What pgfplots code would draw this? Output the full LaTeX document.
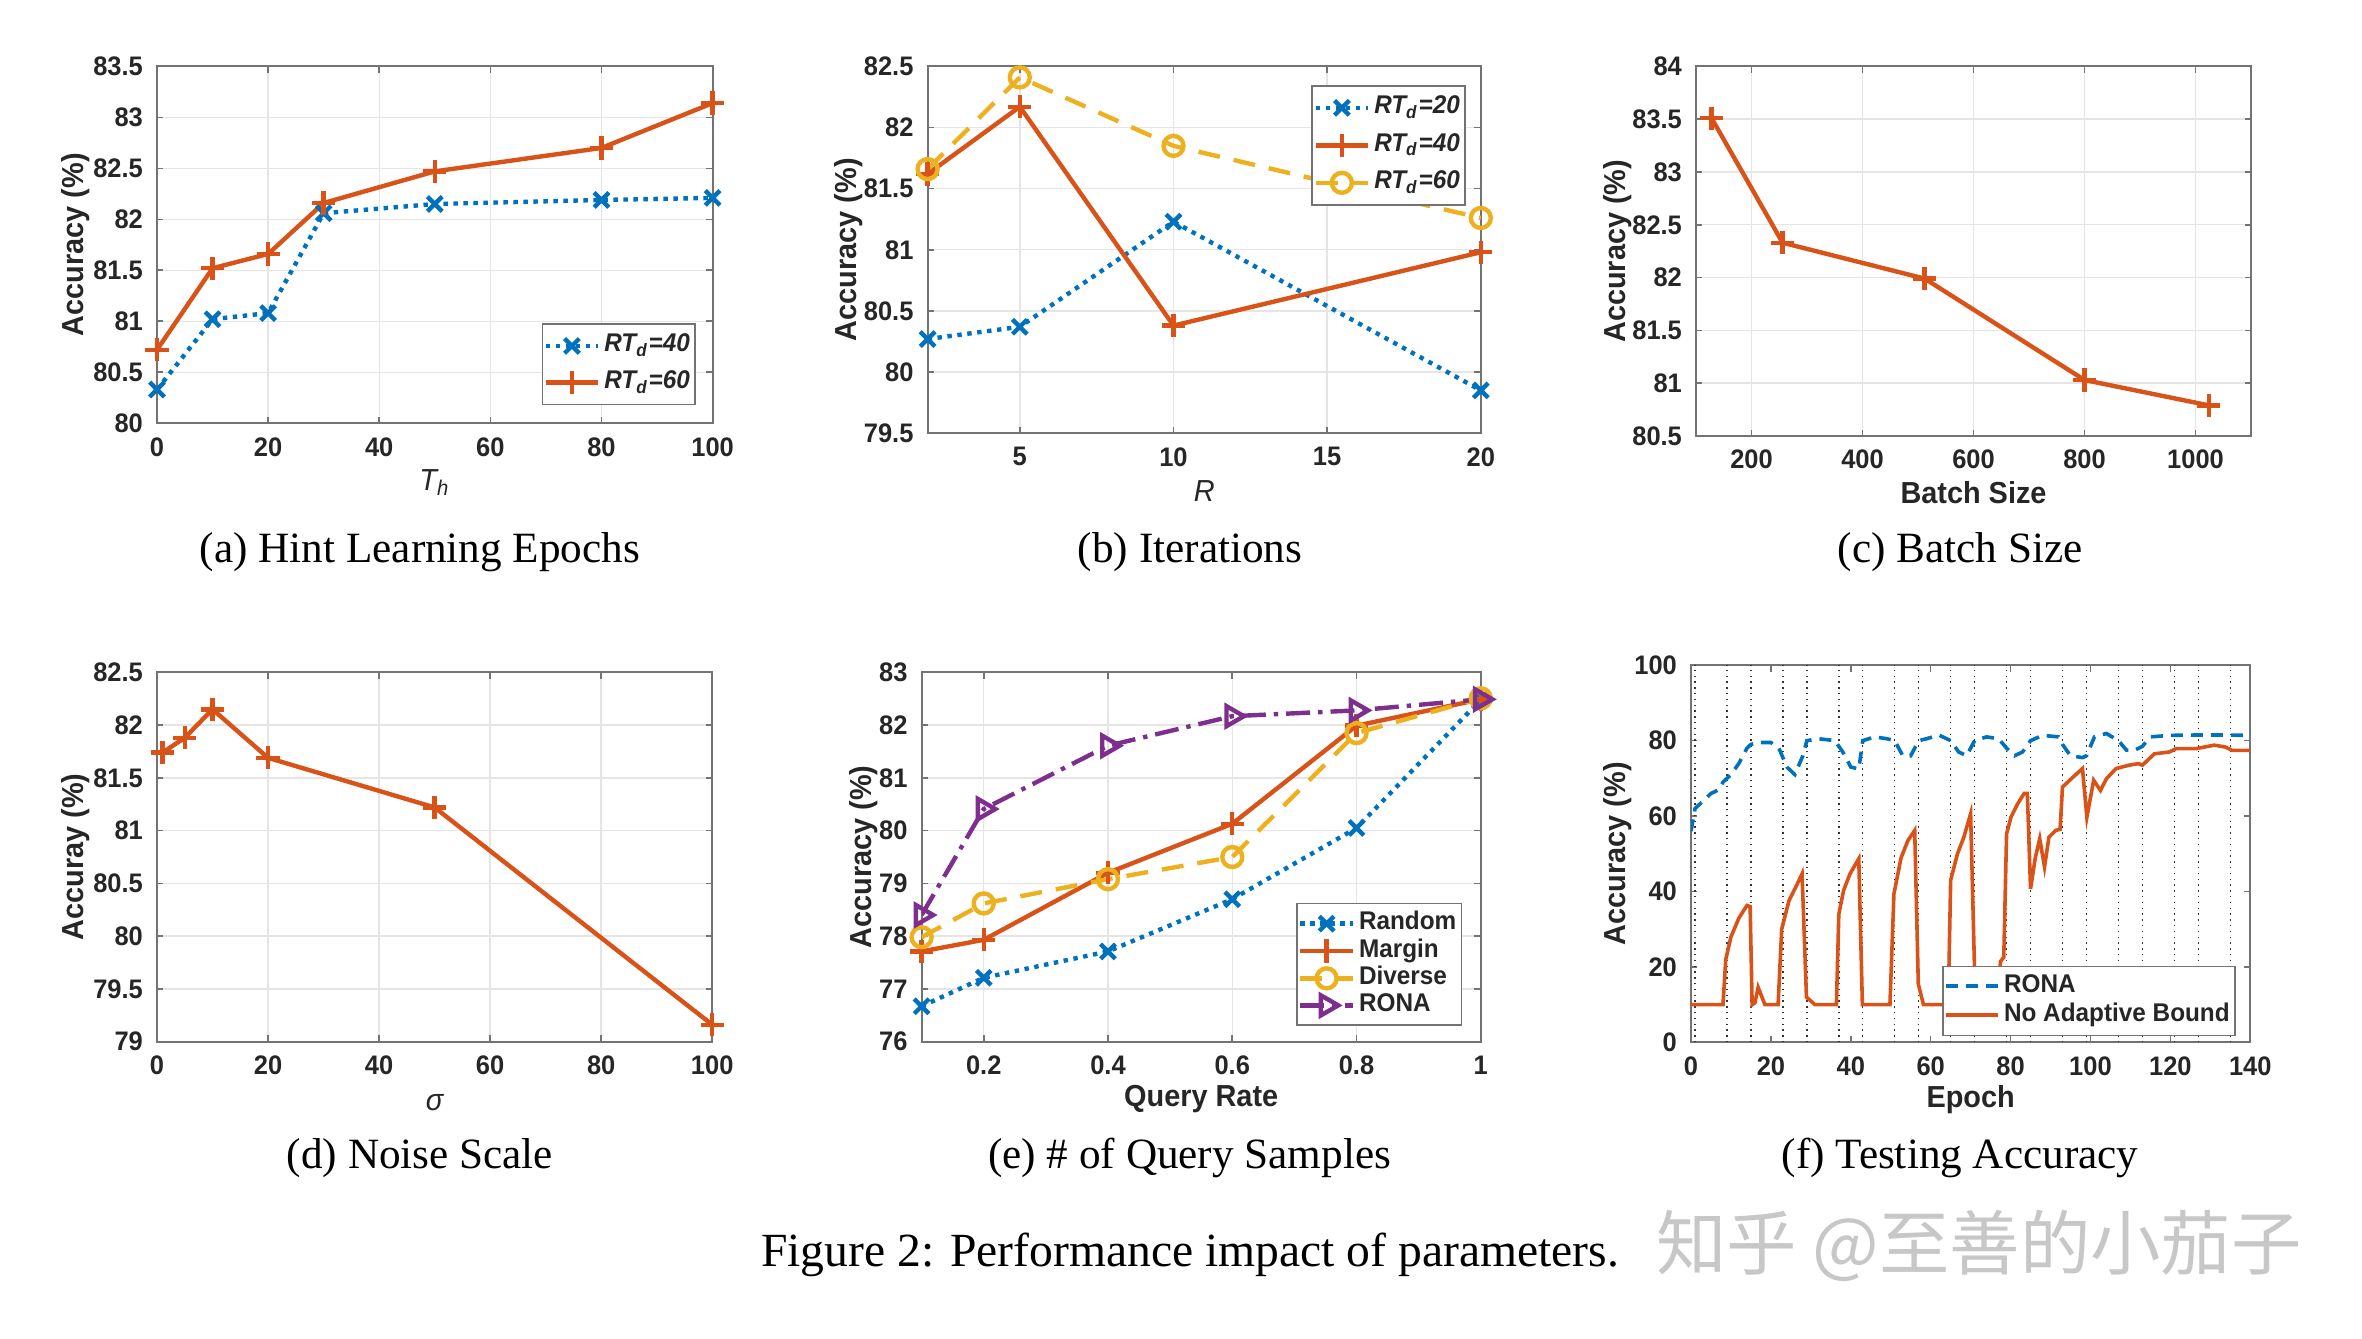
\documentclass[border=0pt]{standalone}
\usepackage{fontspec}
\setmainfont{Liberation Serif}
\setsansfont[FakeStretch=0.95]{Liberation Sans}
\newfontfamily\cjk{Noto Sans CJK SC}
\usepackage{pgfplots}
\pgfplotsset{compat=1.18}
\definecolor{mblue}{rgb}{0,0.447,0.741}
\definecolor{morange}{rgb}{0.85,0.325,0.098}
\definecolor{myellow}{rgb}{0.929,0.694,0.125}
\definecolor{mpurple}{rgb}{0.494,0.184,0.556}
\definecolor{mtext}{rgb}{0.15,0.15,0.15}
\newcommand{\tfont}{\sffamily\bfseries\fontsize{6.7}{8}\selectfont}
\newcommand{\lfont}{\sffamily\bfseries\fontsize{7.6}{8.5}\selectfont}
\newcommand{\ifont}{\sffamily\itshape\fontsize{7.6}{8.5}\selectfont}
\newcommand{\gfont}{\sffamily\bfseries\fontsize{6.4}{7}\selectfont}
\newcommand{\gifont}{\sffamily\itshape\fontsize{6.4}{7}\selectfont}
\pgfplotsset{
 panel/.style={
  scale only axis, anchor=south west,
  axis line style={black!55, line width=0.5pt},
  every tick/.style={black!55, line width=0.4pt},
  major tick length=1.6pt, tick align=inside,
  grid=major, major grid style={black!10, line width=0.35pt},
  /pgf/number format/assume math mode=true,
  /pgf/number format/1000 sep={},
  ticklabel style={font=\tfont, text=mtext},
  ylabel style={font=\lfont, text=mtext, anchor=center},
  xlabel style={font=\lfont, text=mtext, anchor=center},
  legend style={font=\gfont, text=mtext, draw=black!55, line width=0.4pt, fill=white,
     inner xsep=0.3pt, inner ysep=1pt, nodes={inner sep=1pt}, cells={anchor=west}},
  legend image code/.code={\draw[mark repeat=2,mark phase=2] plot coordinates {(0cm,0cm) (0.23cm,0cm) (0.46cm,0cm)};},
  every axis plot/.append style={line width=1.1pt},
 },
 sdot/.style={mblue, dash pattern=on 1.1pt off 1.4pt, mark=x, mark size=2.6pt, mark options={solid, line width=1.1pt}},
 sline/.style={morange, solid, mark=+, mark size=2.9pt, mark options={solid, line width=1.1pt}},
 sdash/.style={myellow, dash pattern=on 5.5pt off 3.5pt, mark=o, mark size=2.5pt, mark options={solid, line width=1.1pt}},
 sdashdot/.style={mpurple, dash pattern=on 6pt off 2pt on 1.1pt off 2pt, mark=triangle, mark size=2.9pt, mark options={solid, rotate=-90, line width=1.1pt}},
}
\begin{document}
\begin{tikzpicture}
\useasboundingbox (0,0) rectangle (590.5pt,334.5pt);

% (a)
\begin{axis}[panel, at={(39.25pt,228.7pt)}, width=138.9pt, height=89.2pt,
  xmin=0, xmax=100, ymin=80, ymax=83.5,
  xtick={0,20,40,60,80,100}, ytick={80,80.5,81,81.5,82,82.5,83,83.5},
  ylabel={Accuracy (\%)}, ylabel style={at={(axis description cs:-0.147,0.5)}},
  xlabel={\ifont\mdseries T\textsubscript{h}}, xlabel style={at={(axis description cs:0.5,-0.166)}},
  legend style={at={(axis description cs:0.97,0.05)}, anchor=south east, row sep=1.2pt, inner ysep=1.5pt}]
\addplot[sdot] coordinates {(0,80.33)(10,81.02)(20,81.08)(30,82.06)(50,82.15)(80,82.19)(100,82.21)};
\addlegendentry{\gifont RT\textsubscript{d}=40}
\addplot[sline] coordinates {(0,80.72)(10,81.52)(20,81.66)(30,82.16)(50,82.47)(80,82.7)(100,83.14)};
\addlegendentry{\gifont RT\textsubscript{d}=60}
\end{axis}

% (b)
\begin{axis}[panel, at={(231.9pt,226.2pt)}, width=138.3pt, height=91.7pt,
  xmin=2, xmax=20, ymin=79.5, ymax=82.5,
  xtick={5,10,15,20}, ytick={79.5,80,80.5,81,81.5,82,82.5},
  ylabel={Accuracy (\%)}, ylabel style={at={(axis description cs:-0.142,0.5)}},
  xlabel={\ifont\mdseries R}, xlabel style={at={(axis description cs:0.5,-0.159)}},
  legend style={at={(axis description cs:0.973,0.949)}, anchor=north east, row sep=1.4pt, inner ysep=1.5pt}]
\addplot[sdot] coordinates {(2,80.27)(5,80.37)(10,81.23)(20,79.85)};
\addlegendentry{\gifont RT\textsubscript{d}=20}
\addplot[sline] coordinates {(2,81.62)(5,82.17)(10,80.38)(20,80.98)};
\addlegendentry{\gifont RT\textsubscript{d}=40}
\addplot[sdash] coordinates {(2,81.66)(5,82.41)(10,81.85)(20,81.26)};
\addlegendentry{\gifont RT\textsubscript{d}=60}
\end{axis}

% (c)
\begin{axis}[panel, at={(424pt,225.5pt)}, width=138.75pt, height=92.4pt,
  xmin=100, xmax=1100, ymin=80.5, ymax=84,
  xtick={200,400,600,800,1000}, ytick={80.5,81,81.5,82,82.5,83,83.5,84},
  ylabel={Accuracy (\%)}, ylabel style={at={(axis description cs:-0.141,0.5)}},
  xlabel={Batch Size}, xlabel style={at={(axis description cs:0.5,-0.154)}}]
\addplot[sline] coordinates {(128,83.51)(256,82.33)(512,81.99)(800,81.03)(1024,80.79)};
\end{axis}

% (d)
\begin{axis}[panel, at={(39.25pt,74.1pt)}, width=138.8pt, height=92.3pt,
  xmin=0, xmax=100, ymin=79, ymax=82.5,
  xtick={0,20,40,60,80,100}, ytick={79,79.5,80,80.5,81,81.5,82,82.5},
  ylabel={Accuray (\%)}, ylabel style={at={(axis description cs:-0.147,0.5)}},
  xlabel={\ifont\mdseries σ}, xlabel style={at={(axis description cs:0.5,-0.164)}}]
\addplot[sline] coordinates {(1,81.74)(5,81.88)(10,82.15)(20,81.69)(50,81.22)(100,79.16)};
\end{axis}

% (e)
\begin{axis}[panel, at={(230.4pt,74.1pt)}, width=139.8pt, height=92.3pt,
  xmin=0.1, xmax=1, ymin=76, ymax=83,
  xtick={0.2,0.4,0.6,0.8,1}, xticklabels={0.2,0.4,0.6,0.8,1}, ytick={76,77,78,79,80,81,82,83},
  ylabel={Accuracy (\%)}, ylabel style={at={(axis description cs:-0.103,0.5)}},
  xlabel={Query Rate}, xlabel style={at={(axis description cs:0.5,-0.156)}},
  legend style={at={(axis description cs:0.967,0.042)}, anchor=south east, row sep=-1.3pt}]
\addplot[sdot] coordinates {(0.1,76.67)(0.2,77.21)(0.4,77.71)(0.6,78.70)(0.8,80.05)(1,82.48)};
\addlegendentry{Random}
\addplot[sline] coordinates {(0.1,77.71)(0.2,77.93)(0.4,79.2)(0.6,80.13)(0.8,81.99)(1,82.49)};
\addlegendentry{Margin}
\addplot[sdash] coordinates {(0.1,77.98)(0.2,78.62)(0.4,79.08)(0.6,79.5)(0.8,81.85)(1,82.51)};
\addlegendentry{Diverse}
\addplot[sdashdot] coordinates {(0.1,78.4)(0.2,80.41)(0.4,81.61)(0.6,82.17)(0.8,82.28)(1,82.49)};
\addlegendentry{RONA}
\end{axis}

% (f)
\begin{axis}[panel, at={(422.75pt,73.9pt)}, width=139.8pt, height=94.3pt,
  grid=none,
  xmin=0, xmax=140, ymin=0, ymax=100,
  xtick={0,20,40,60,80,100,120,140}, ytick={0,20,40,60,80,100},
  extra x ticks={1,9,15,23,29,37,43,51,57,65,71,79,85,93,99,107,113,121,127,135},
  extra x tick labels={},
  extra x tick style={grid=major, major grid style={black!80, line width=0.35pt, dash pattern=on 0.35pt off 1.1pt}, major tick length=0pt},
  ylabel={Accuracy (\%)}, ylabel style={at={(axis description cs:-0.131,0.5)}},
  xlabel={Epoch}, xlabel style={at={(axis description cs:0.5,-0.151)}},
  legend style={at={(axis description cs:0.974,0.016)}, anchor=south east, row sep=-0.8pt}]
\addplot[mblue, line width=0.9pt, dash pattern=on 3pt off 2pt] coordinates {
(0,56)(1,62)(3,64)(5,66)(7,67)(8,69)(10,71)(12,74)(14,78)(15,79)(17,79.5)(20,79.5)(22,78)(24,73)(26,71)(28,76)(29,80)(32,80.5)(36,80)(38,77)(40,73)(42,72.5)(43,80)(46,81)(49,80.5)(51,80)(53,76)(55,76)(57,80)(59,80.5)(62,81.5)(65,80)(67,77)(69,76)(71,80)(74,81)(77,80.5)(79,78)(81,76)(83,77)(85,80)(88,81.4)(92,81)(93,79)(95,76)(98,75.5)(99,76)(101,81)(104,81.9)(107,80)(109,77.5)(111,77.4)(113,78.5)(115,81)(120,81.4)(127,81.5)(132,81.5)(140,81.4)};
\addlegendentry{RONA}
\addplot[morange, line width=0.9pt] coordinates {
(0,10)(8,10)(8.7,22)(10,28)(12,33)(14,36.3)(14.8,36)(15.3,10)(16,10.5)(16.8,14.6)(18.5,10)(21.8,10)(22.7,30)(24.5,37.5)(26.6,42)(27.8,44.7)(28.9,12)(30,11)(31,10)(36.4,10)(37,34)(38.2,40.3)(39.8,44.7)(42,48.7)(42.9,10)(49.8,10)(50.8,39.4)(52.6,49)(54.3,53.5)(56,56.2)(56.9,15.5)(58.2,10)(64.4,10)(65,43)(66.7,50)(68.3,54.4)(70,60.6)(71.2,10)(76.5,10)(77.5,21.5)(78.3,22.6)(79,55.3)(80.1,59.7)(81.8,63.3)(83.4,66)(84.2,66)(85,40.7)(86.2,49)(87.3,54)(88.5,46.5)(89.6,54.4)(91.3,56.2)(92.4,56.5)(93,67.7)(95.2,69.9)(98,72.6)(99.1,59.7)(100.8,69.5)(102.5,66.8)(104,69.9)(106.4,72.6)(109.7,73.5)(112,73.9)(113,73.5)(116,76.5)(119.8,77)(121.5,77.9)(126.5,77.9)(131,78.8)(133.8,78.3)(135.5,77.4)(140,77.4)};
\addlegendentry{No Adaptive Bound}
\end{axis}

% captions
\begin{scope}[every node/.style={font=\rmfamily\fontsize{10.8}{13}\selectfont, anchor=center, inner sep=0pt}]
\node at (105pt,196.5pt) {(a) Hint Learning Epochs};
\node at (297.5pt,196.5pt) {(b) Iterations};
\node at (490pt,196.5pt) {(c) Batch Size};
\node at (105pt,45pt) {(d) Noise Scale};
\node at (297.4pt,45pt) {(e) \# of Query Samples};
\node at (490pt,45pt) {(f) Testing Accuracy};
\end{scope}
\node[font=\rmfamily\fontsize{11.9}{14}\selectfont, anchor=center, inner sep=0pt] at (297.5pt,20.75pt) {Figure 2: Performance impact of parameters.};
\node[font=\cjk\fontsize{17.6}{19}\selectfont, text=black!22, anchor=center, inner sep=0pt] at (494.7pt,23pt) {知乎 @至善的小茄子};
\end{tikzpicture}
\end{document}
